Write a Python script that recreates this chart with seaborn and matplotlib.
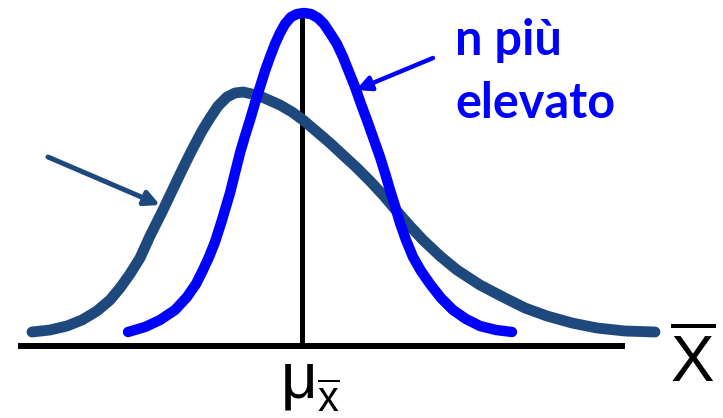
import numpy as np
import pandas as pd
import matplotlib
matplotlib.use("Agg")
import matplotlib.pyplot as plt
import seaborn as sns

# Curves: x relative to mu, height above the axis line
wide_x = [-270, -252, -235, -220, -205, -192, -182, -172, -162, -152, -140,
          -129, -119, -109, -100, -92, -84, -75, -67, -59, -50, -40, -22,
          -10, 1, 14, 28, 42, 55, 68, 81, 93, 107, 121, 138, 155, 178, 201,
          223, 245, 270, 295, 323, 353]
wide_y = [14, 16, 20, 26, 35, 46, 58, 72, 88, 110, 134,
          157, 178, 198, 215, 228, 240, 249, 253, 254, 252, 249, 241,
          234, 226, 215, 203, 190, 178, 165, 151, 137, 121, 106, 90, 76, 61, 49,
          38, 30, 23, 18, 15, 14]

narrow_x = [-174, -157, -142, -127, -115, -106, -99, -93, -87, -80, -72, -67,
            -62, -57, -52, -47, -42, -37, -32, -27, -22, -17, -11, -5, 2, 9,
            16, 22, 28, 35, 41, 47, 53, 59, 66, 72, 78, 83, 88, 93, 98, 104,
            111, 119, 128, 139, 151, 164, 178, 194, 210]
narrow_y = [14, 19, 26, 36, 49, 62, 76, 89, 104, 126, 153, 173,
            193, 210, 226, 243, 259, 275, 289, 302, 313, 322, 329, 332, 333, 332,
            328, 322, 313, 302, 289, 274, 259, 242, 223, 206, 189, 173, 156, 140, 123, 106,
            89, 75, 62, 48, 36, 27, 20, 16, 14]

label_lines = ["n più", "elevato"]
label_baselines = [291, 228]

DARK = "#1F497D"
BLUE = "#0000FF"

sns.set_style("white")
plt.rcParams["font.family"] = ["Lato", "DejaVu Sans"]
plt.rcParams["mathtext.fontset"] = "custom"
plt.rcParams["mathtext.rm"] = "Liberation Sans"
plt.rcParams["mathtext.it"] = "Liberation Sans"

fig = plt.figure(figsize=(7.23, 4.18), dpi=100)
ax = fig.add_axes([0, 0, 1, 1])

# axis line and the mean marker
ax.hlines(0, -284, 323, color="black", lw=4.3, zorder=1)
ax.vlines(0, 0, 331, color="black", lw=3.6, zorder=1)

wide = pd.DataFrame({"x": wide_x, "y": wide_y})
narrow = pd.DataFrame({"x": narrow_x, "y": narrow_y})
sns.lineplot(data=wide, x="x", y="y", ax=ax, color=DARK, lw=7.8,
             estimator=None, sort=False, solid_capstyle="round",
             solid_joinstyle="round", zorder=2)
sns.lineplot(data=narrow, x="x", y="y", ax=ax, color=BLUE, lw=7.5,
             estimator=None, sort=False, solid_capstyle="round",
             solid_joinstyle="round", zorder=3)
ax.set_xlim(-302, 421)
ax.set_ylim(-72, 346)
ax.axis("off")

# arrows
ax.annotate("", xy=(-142, 141), xytext=(-254, 189),
            arrowprops=dict(arrowstyle="-|>", color=DARK, lw=3.6,
                            mutation_scale=22, shrinkA=0, shrinkB=0))
ax.annotate("", xy=(54, 256), xytext=(131, 288),
            arrowprops=dict(arrowstyle="-|>", color=BLUE, lw=3.2,
                            mutation_scale=22, shrinkA=0, shrinkB=0))

for line, yb in zip(label_lines, label_baselines):
    ax.text(153, yb, line, color=BLUE, fontsize=35, fontweight="bold",
            ha="left", va="baseline")

# mu with x-bar subscript, and the x-bar axis label
ax.text(-21, -52, "μ", fontsize=46, family="Liberation Sans",
        ha="left", va="baseline", color="black")
ax.text(15, -66, r"$\overline{\mathrm{x}}$", fontsize=30,
        ha="left", va="baseline", color="black")
ax.text(368, -36, r"$\overline{\mathrm{X}}$", fontsize=47,
        ha="left", va="baseline", color="black")

fig.savefig("out.png", dpi=100)
